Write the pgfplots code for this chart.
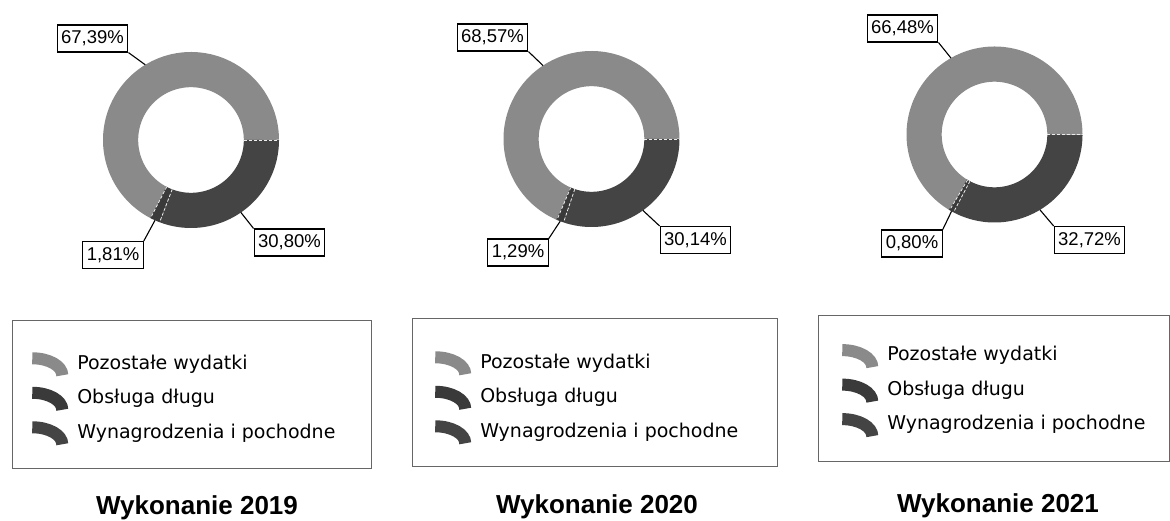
\documentclass[border=0pt]{standalone}
\usepackage{pgfplots}
\pgfplotsset{compat=1.18}
\usepackage{pgfplotstable}
\usepackage{fontspec}
\setmainfont{Liberation Sans}
\newfontfamily\legfont{DejaVu Sans}
\definecolor{cPoz}{HTML}{8A8A8A}
\definecolor{cObs}{HTML}{3A3A3A}
\definecolor{cWyn}{HTML}{444444}

% shares in percent: Pozostale wydatki, Obsluga dlugu, Wynagrodzenia i pochodne
\pgfplotstableread{
cat val
Pozostale 67.39
Obsluga 1.81
Wynagrodzenia 30.80
}\tabA
\pgfplotstableread{
cat val
Pozostale 68.57
Obsluga 1.29
Wynagrodzenia 30.14
}\tabB
\pgfplotstableread{
cat val
Pozostale 66.48
Obsluga 0.80
Wynagrodzenia 32.72
}\tabC

\newcommand\getangles[1]{%
 \pgfplotstablegetelem{0}{val}\of#1\pgfmathsetmacro\vP{\pgfplotsretval}%
 \pgfplotstablegetelem{1}{val}\of#1\pgfmathsetmacro\vO{\pgfplotsretval}%
 \pgfmathsetmacro\aP{3.6*\vP}%
 \pgfmathsetmacro\aO{3.6*(\vP+\vO)}%
 \pgfmathsetmacro\xP{cos(\aP/2)}\pgfmathsetmacro\yP{sin(\aP/2)}%
 \pgfmathsetmacro\xO{cos((\aP+\aO)/2)}\pgfmathsetmacro\yO{sin((\aP+\aO)/2)}%
 \pgfmathsetmacro\xW{cos((\aO+360)/2)}\pgfmathsetmacro\yW{sin((\aO+360)/2)}%
 \pgfmathsetmacro\cA{cos(\aP)}\pgfmathsetmacro\sA{sin(\aP)}%
 \pgfmathsetmacro\cB{cos(\aO)}\pgfmathsetmacro\sB{sin(\aO)}%
}

\pgfplotsset{
 ring/.style={line width=35.2pt, line cap=butt, samples=150, no markers},
 donut/.style={hide axis, x=88pt, y=88pt, xmin=-1, xmax=1, ymin=-1, ymax=1,
  clip=false, anchor=center,
  legend image code/.code={\draw[line width=12pt, line cap=butt] (0pt,6pt) arc[start angle=90,end angle=0,x radius=30pt,y radius=17pt];},
  legend cell align=left,
  legend style={draw=none, fill=none, inner sep=0pt,
   row sep=5.5pt, column sep=9pt, anchor=north west,
   font=\legfont\fontsize{19}{22}\selectfont,
   nodes={inner sep=0pt, text height=14pt, text depth=4.5pt}},
 },
}
\tikzset{
 lbl/.style={draw=black, line width=1.1pt, fill=white, font=\fontsize{18.5}{20}\selectfont,
  inner xsep=4pt, inner ysep=0pt, minimum height=27pt},
 lead/.style={line width=1.1pt},
 sep/.style={white!85!gray, line width=0.8pt, densely dashed},
 ttl/.style={font=\bfseries\fontsize{26}{30}\selectfont, anchor=base},
 frame/.style={draw=black!60, line width=1pt},
}

\begin{document}
\begin{tikzpicture}
\path[use as bounding box] (0pt,0pt) rectangle (1170pt,521pt);

% legend frames
\draw[frame] (12pt,200pt) rectangle (371pt,52pt);
\draw[frame] (412pt,202pt) rectangle (777pt,54pt);
\draw[frame] (818pt,205pt) rectangle (1169pt,59pt);

% ---------- 2019 ----------
\getangles{\tabA}
\begin{axis}[donut, at={(191pt,381pt)}, legend style={at={(-0.437,-0.705)}}]
\addplot[ring, color=cPoz, domain=0:\aP] ({0.8*cos(x)},{0.8*sin(x)});
\addplot[ring, color=cObs, domain=\aP:\aO] ({0.8*cos(x)},{0.8*sin(x)});
\addplot[ring, color=cWyn, domain=\aO:360] ({0.8*cos(x)},{0.8*sin(x)});
\legend{Pozostałe wydatki,Obsługa długu,Wynagrodzenia i pochodne}
\draw[sep] (axis cs:0.6,0) -- (axis cs:1,0);
\draw[sep] (axis cs:{0.6*\cA},{0.6*\sA}) -- (axis cs:\cA,\sA);
\draw[sep] (axis cs:{0.6*\cB},{0.6*\sB}) -- (axis cs:\cB,\sB);
\node[lbl] (p) at (axis cs:-1.119,1.153) {67,39\%};
\node[lbl] (o) at (axis cs:-0.886,-1.307) {1,81\%};
\node[lbl] (w) at (axis cs:1.119,-1.165) {30,80\%};
\draw[lead] (p.south east) -- (axis cs:\xP,\yP);
\draw[lead] (o.north east) -- (axis cs:\xO,\yO);
\draw[lead] (w.north west) -- (axis cs:\xW,\yW);
\end{axis}

% ---------- 2020 ----------
\getangles{\tabB}
\begin{axis}[donut, at={(591.5pt,382pt)}, legend style={at={(-0.423,-0.705)}}]
\addplot[ring, color=cPoz, domain=0:\aP] ({0.8*cos(x)},{0.8*sin(x)});
\addplot[ring, color=cObs, domain=\aP:\aO] ({0.8*cos(x)},{0.8*sin(x)});
\addplot[ring, color=cWyn, domain=\aO:360] ({0.8*cos(x)},{0.8*sin(x)});
\legend{Pozostałe wydatki,Obsługa długu,Wynagrodzenia i pochodne}
\draw[sep] (axis cs:0.6,0) -- (axis cs:1,0);
\draw[sep] (axis cs:{0.6*\cA},{0.6*\sA}) -- (axis cs:\cA,\sA);
\draw[sep] (axis cs:{0.6*\cB},{0.6*\sB}) -- (axis cs:\cB,\sB);
\node[lbl] (p) at (axis cs:-1.125,1.153) {68,57\%};
\node[lbl] (o) at (axis cs:-0.835,-1.290) {1,29\%};
\node[lbl] (w) at (axis cs:1.182,-1.148) {30,14\%};
\draw[lead] (p.south east) -- (axis cs:\xP,\yP);
\draw[lead] (o.north east) -- (axis cs:\xO,\yO);
\draw[lead] (w.north west) -- (axis cs:\xW,\yW);
\end{axis}

% ---------- 2021 ----------
\getangles{\tabC}
\begin{axis}[donut, at={(994.5pt,386.5pt)}, legend style={at={(-0.400,-0.690)}}]
\addplot[ring, color=cPoz, domain=0:\aP] ({0.8*cos(x)},{0.8*sin(x)});
\addplot[ring, color=cObs, domain=\aP:\aO] ({0.8*cos(x)},{0.8*sin(x)});
\addplot[ring, color=cWyn, domain=\aO:360] ({0.8*cos(x)},{0.8*sin(x)});
\legend{Pozostałe wydatki,Obsługa długu,Wynagrodzenia i pochodne}
\draw[sep] (axis cs:0.6,0) -- (axis cs:1,0);
\draw[sep] (axis cs:{0.6*\cA},{0.6*\sA}) -- (axis cs:\cA,\sA);
\draw[sep] (axis cs:{0.6*\cB},{0.6*\sB}) -- (axis cs:\cB,\sB);
\node[lbl] (p) at (axis cs:-1.045,1.205) {66,48\%};
\node[lbl] (o) at (axis cs:-0.9375,-1.239) {0,80\%};
\node[lbl] (w) at (axis cs:1.080,-1.199) {32,72\%};
\draw[lead] (p.south east) -- (axis cs:\xP,\yP);
\draw[lead] (o.north east) -- (axis cs:\xO,\yO);
\draw[lead] (w.north west) -- (axis cs:\xW,\yW);
\end{axis}

\node[ttl] at (197pt,6pt) {Wykonanie 2019};
\node[ttl] at (597pt,7pt) {Wykonanie 2020};
\node[ttl] at (998pt,8pt) {Wykonanie 2021};
\end{tikzpicture}
\end{document}
